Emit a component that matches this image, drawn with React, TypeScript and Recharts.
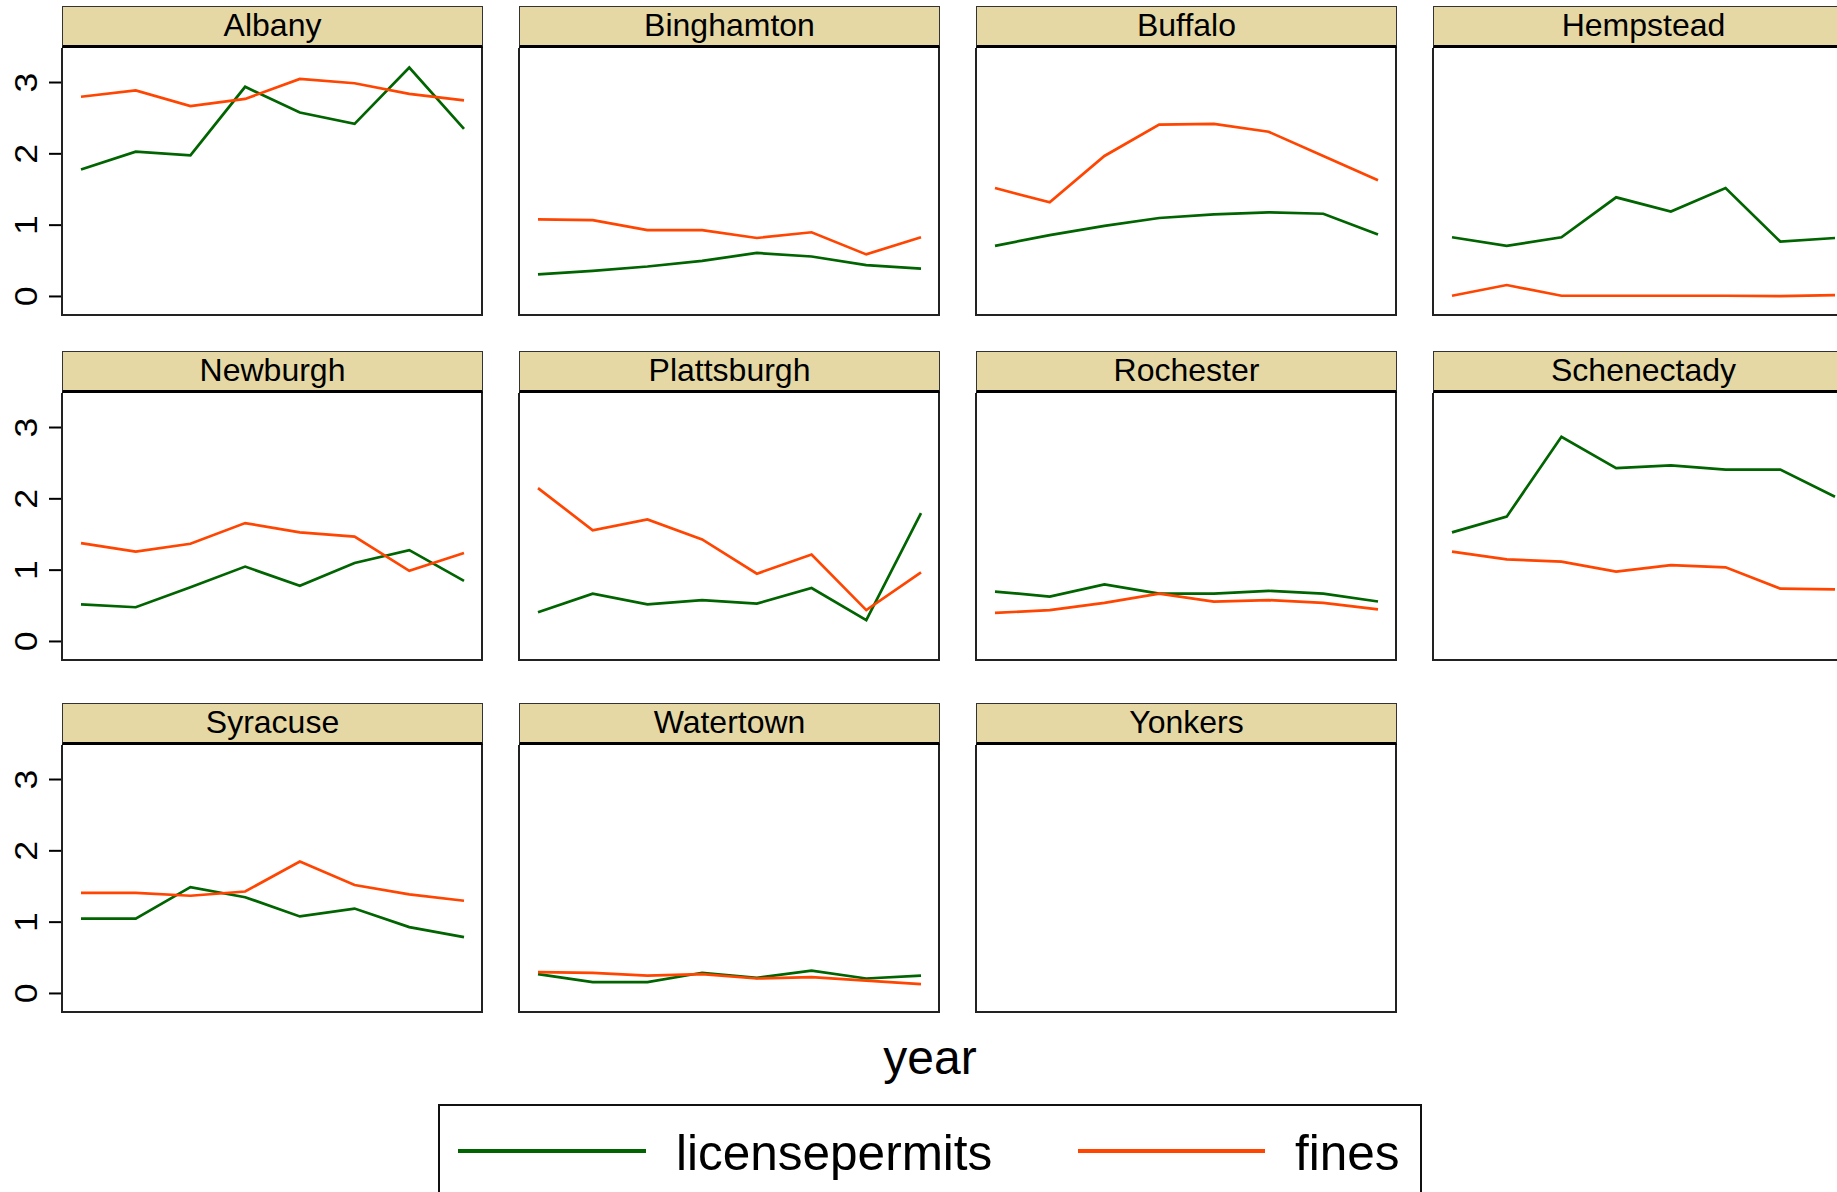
import React from "react";
import { LineChart, Line, XAxis, YAxis } from "recharts";

const years = ["2011", "2012", "2013", "2014", "2015", "2016", "2017", "2018"];
const cities = [
  "Albany", "Binghamton", "Buffalo", "Hempstead",
  "Newburgh", "Plattsburgh", "Rochester", "Schenectady",
  "Syracuse", "Watertown", "Yonkers",
];

const albanyLicense = [1.78, 2.03, 1.98, 2.94, 2.58, 2.42, 3.21, 2.35];
const albanyFines = [2.8, 2.89, 2.67, 2.77, 3.05, 2.99, 2.84, 2.75];
const binghamtonLicense = [0.31, 0.36, 0.42, 0.5, 0.61, 0.56, 0.44, 0.39];
const binghamtonFines = [1.08, 1.07, 0.93, 0.93, 0.82, 0.9, 0.59, 0.83];
const buffaloLicense = [0.71, 0.86, 0.99, 1.1, 1.15, 1.18, 1.16, 0.87];
const buffaloFines = [1.52, 1.32, 1.97, 2.41, 2.42, 2.31, 1.97, 1.63];
const hempsteadLicense = [0.83, 0.71, 0.83, 1.39, 1.19, 1.52, 0.77, 0.82];
const hempsteadFines = [0.01, 0.16, 0.01, 0.01, 0.01, 0.01, 0.005, 0.02];
const newburghLicense = [0.52, 0.48, 0.76, 1.05, 0.78, 1.1, 1.28, 0.85];
const newburghFines = [1.38, 1.26, 1.37, 1.66, 1.53, 1.47, 0.99, 1.24];
const plattsburghLicense = [0.41, 0.67, 0.52, 0.58, 0.53, 0.75, 0.3, 1.8];
const plattsburghFines = [2.15, 1.56, 1.71, 1.43, 0.95, 1.22, 0.44, 0.97];
const rochesterLicense = [0.7, 0.63, 0.8, 0.67, 0.67, 0.71, 0.67, 0.56];
const rochesterFines = [0.4, 0.44, 0.54, 0.67, 0.56, 0.58, 0.54, 0.45];
const schenectadyLicense = [1.53, 1.75, 2.87, 2.43, 2.47, 2.41, 2.41, 2.03];
const schenectadyFines = [1.26, 1.15, 1.12, 0.98, 1.07, 1.04, 0.74, 0.73];
const syracuseLicense = [1.05, 1.05, 1.49, 1.35, 1.08, 1.19, 0.93, 0.79];
const syracuseFines = [1.41, 1.41, 1.37, 1.43, 1.85, 1.52, 1.39, 1.3];
const watertownLicense = [0.27, 0.16, 0.16, 0.29, 0.22, 0.32, 0.21, 0.25];
const watertownFines = [0.3, 0.29, 0.25, 0.27, 0.21, 0.23, 0.18, 0.13];
const yonkersLicense: (number | null)[] = [null, null, null, null, null, null, null, null];
const yonkersFines: (number | null)[] = [null, null, null, null, null, null, null, null];

const licenseByCity = [
  albanyLicense, binghamtonLicense, buffaloLicense, hempsteadLicense,
  newburghLicense, plattsburghLicense, rochesterLicense, schenectadyLicense,
  syracuseLicense, watertownLicense, yonkersLicense,
];
const finesByCity = [
  albanyFines, binghamtonFines, buffaloFines, hempsteadFines,
  newburghFines, plattsburghFines, rochesterFines, schenectadyFines,
  syracuseFines, watertownFines, yonkersFines,
];

const yTicks = [0, 1, 2, 3];

const GREEN = "#006400";
const ORANGE = "#FF4500";
const STRIP = "#E5D8A5";
const FONT = "'Liberation Sans', Arial, Helvetica, sans-serif";

const colLeft = [62, 519, 976, 1433];
const rowTop = [6, 351, 703];
const PANEL_W = 421;
const STRIP_H = 42;
const PLOT_H = 266;
const AXIS_W = 62;

// rotated tick labels, a bit wider than plain Liberation Sans like the original
function YTick(props: any) {
  const { y, payload } = props;
  return (
    <text
      x={0}
      y={0}
      transform={`translate(26, ${y}) rotate(-90) scale(1.15, 1)`}
      textAnchor="middle"
      dominantBaseline="central"
      fontSize={31}
      fontFamily={FONT}
      fill="#000"
    >
      {payload.value}
    </text>
  );
}

function Panel({ idx }: { idx: number }) {
  const col = idx % 4;
  const row = Math.floor(idx / 4);
  const left = colLeft[col];
  const top = rowTop[row];
  const showAxis = col === 0;
  const data = years.map((y, i) => ({
    year: y,
    licensepermits: licenseByCity[idx][i],
    fines: finesByCity[idx][i],
  }));
  const chartLeft = showAxis ? left - AXIS_W : left;
  const chartW = showAxis ? PANEL_W + AXIS_W : PANEL_W;

  return (
    <>
      <div
        style={{
          position: "absolute",
          left,
          top,
          width: PANEL_W,
          height: STRIP_H,
          boxSizing: "border-box",
          background: STRIP,
          border: "1px solid #333",
          borderBottom: "3px solid #000",
          fontFamily: FONT,
          fontSize: 32,
          lineHeight: `${STRIP_H - 6}px`,
          textAlign: "center",
          color: "#000",
        }}
      >
        {cities[idx]}
      </div>
      <div style={{ position: "absolute", left: chartLeft, top: top + STRIP_H + 1 }}>
        <LineChart
          width={chartW}
          height={PLOT_H}
          data={data}
          margin={{ top: 0, right: 0, bottom: 0, left: 0 }}
        >
          <XAxis dataKey="year" hide padding={{ left: 19, right: 19 }} />
          <YAxis
            hide={!showAxis}
            width={AXIS_W}
            domain={[-0.26, 3.47]}
            ticks={yTicks}
            allowDataOverflow
            axisLine={false}
            tickLine={{ stroke: "#000", strokeWidth: 2 }}
            tickSize={13}
            tick={<YTick />}
          />
          <Line
            type="linear"
            dataKey="licensepermits"
            stroke={GREEN}
            strokeWidth={2.7}
            dot={false}
            isAnimationActive={false}
          />
          <Line
            type="linear"
            dataKey="fines"
            stroke={ORANGE}
            strokeWidth={2.7}
            dot={false}
            isAnimationActive={false}
          />
        </LineChart>
      </div>
      <div
        style={{
          position: "absolute",
          left: left - 1,
          top: top + STRIP_H,
          width: PANEL_W + 1,
          height: PLOT_H + 2,
          boxSizing: "border-box",
          border: "2px solid #222",
          borderTop: "none",
          pointerEvents: "none",
        }}
      />
    </>
  );
}

export default function App() {
  return (
    <div
      style={{
        position: "absolute",
        left: 0,
        top: 0,
        width: 1837,
        height: 1192,
        overflow: "hidden",
        background: "#fff",
      }}
    >
      {cities.map((c, i) => (
        <Panel key={c} idx={i} />
      ))}
      <div
        style={{
          position: "absolute",
          left: 730,
          top: 1030,
          width: 400,
          textAlign: "center",
          fontFamily: FONT,
          fontSize: 48,
          lineHeight: "56px",
          color: "#000",
        }}
      >
        year
      </div>
      <div
        style={{
          position: "absolute",
          left: 438,
          top: 1104,
          width: 984,
          height: 120,
          boxSizing: "border-box",
          border: "2px solid #111",
          fontFamily: FONT,
          color: "#000",
        }}
      >
        <svg width={980} height={100} style={{ position: "absolute", left: 0, top: 0 }}>
          <line x1={18} x2={206} y1={45} y2={45} stroke={GREEN} strokeWidth={4} />
          <line x1={638} x2={825} y1={45} y2={45} stroke={ORANGE} strokeWidth={4} />
          <text x={236} y={46} dominantBaseline="central" fontSize={49.5} fontFamily={FONT}>
            licensepermits
          </text>
          <text x={855} y={46} dominantBaseline="central" fontSize={49.5} fontFamily={FONT}>
            fines
          </text>
        </svg>
      </div>
    </div>
  );
}
